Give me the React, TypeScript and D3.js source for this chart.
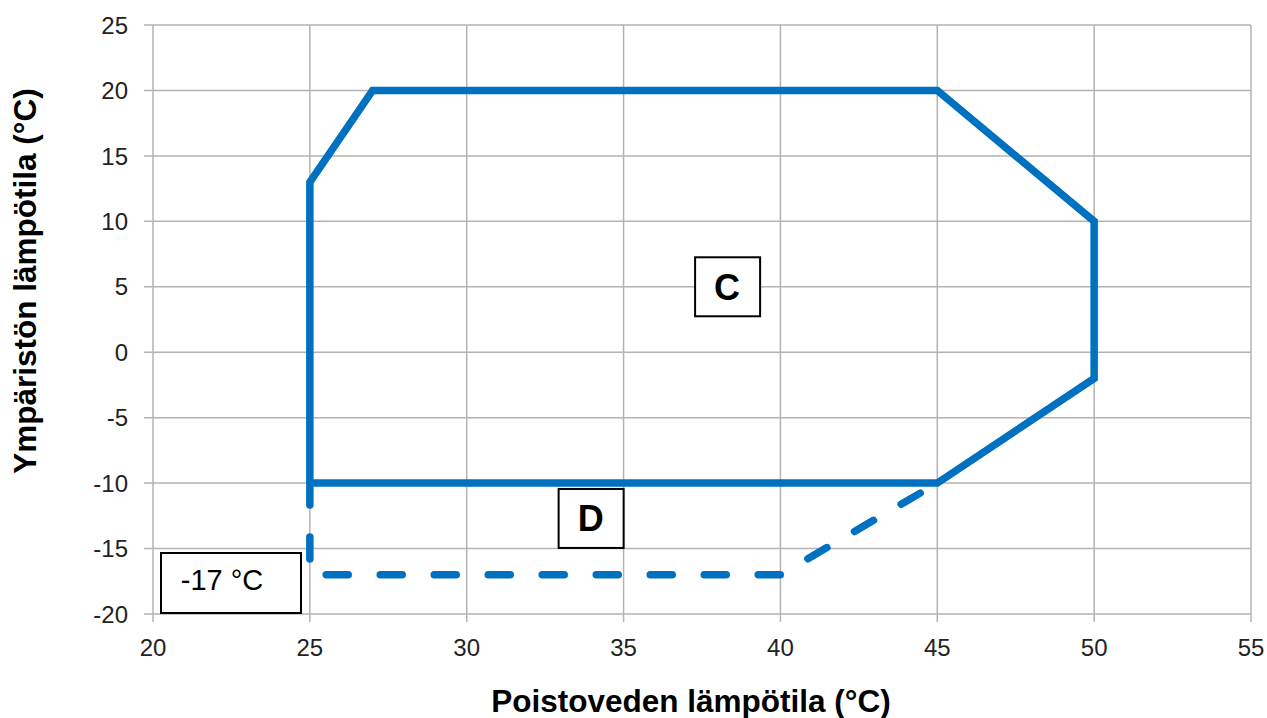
import React from "react";
import * as d3 from "d3";

const xTicks = [20, 25, 30, 35, 40, 45, 50, 55];
const yTicks = [25, 20, 15, 10, 5, 0, -5, -10, -15, -20];

const areaCX = [25, 25, 27, 45, 50, 50, 45, 25];
const areaCY = [-10, 13, 20, 20, 10, -2, -10, -10];

const areaDX = [25, 25, 40, 45];
const areaDY = [-10, -17, -17, -10];

const labels = [
  { text: "C", x: 38.3, y: 5 },
  { text: "D", x: 33.95, y: -12.7 },
];
const minLabel = { text: "-17 °C", x: 22.2, y: -17.4 };

const xTitle = "Poistoveden lämpötila (°C)";
const yTitle = "Ympäristön lämpötila (°C)";

const W = 1267;
const H = 718;
const left = 153;
const right = 1251;
const top = 25;
const bottom = 614;

export default function App() {
  const x = d3.scaleLinear().domain([20, 55]).range([left, right]);
  const y = d3.scaleLinear().domain([-20, 25]).range([bottom, top]);
  const line = d3
    .line<[number, number]>()
    .x((d) => x(d[0]))
    .y((d) => y(d[1]));
  const solidPts = areaCX.map((v, i) => [v, areaCY[i]] as [number, number]);
  const dashPts = areaDX.map((v, i) => [v, areaDY[i]] as [number, number]);
  const blue = "#0070c0";
  const font = "Arial, 'Liberation Sans', sans-serif";
  const gridC = "#b3b3b3";

  return (
    <svg
      width={W}
      height={H}
      style={{ position: "absolute", left: 0, top: 0, background: "#fff" }}
      fontFamily={font}
    >
      {yTicks.map((t) => (
        <g key={"y" + t}>
          <line x1={left - 9} x2={right} y1={y(t)} y2={y(t)} stroke={gridC} strokeWidth={1.5} />
          <text x={128} y={y(t)} dy="0.36em" textAnchor="end" fontSize={24} fill="#222">
            {t}
          </text>
        </g>
      ))}
      {xTicks.map((t) => (
        <g key={"x" + t}>
          <line x1={x(t)} x2={x(t)} y1={top} y2={bottom + 8} stroke={gridC} strokeWidth={1.5} />
          <text x={x(t)} y={656} textAnchor="middle" fontSize={24} fill="#222">
            {t}
          </text>
        </g>
      ))}
      <path
        d={line(dashPts) || ""}
        fill="none"
        stroke={blue}
        strokeWidth={7.5}
        strokeDasharray="22,32"
        strokeLinecap="round"
        strokeLinejoin="round"
      />
      <path d={line(solidPts) || ""} fill="none" stroke={blue} strokeWidth={7.5} strokeLinejoin="miter" />
      {labels.map((l) => (
        <g key={l.text}>
          <rect
            x={x(l.x) - 32}
            y={y(l.y) - 29.5}
            width={65}
            height={59}
            fill="#fff"
            stroke="#000"
            strokeWidth={2}
          />
          <text
            x={x(l.x)}
            y={y(l.y)}
            dy="0.36em"
            textAnchor="middle"
            fontSize={36}
            fontWeight="bold"
            fill="#000"
          >
            {l.text}
          </text>
        </g>
      ))}
      <rect
        x={161}
        y={553}
        width={140}
        height={60}
        fill="#fff"
        stroke="#000"
        strokeWidth={2}
      />
      <text x={x(minLabel.x)} y={y(minLabel.y)} dy="0.36em" textAnchor="middle" fontSize={29} fill="#000">
        {minLabel.text}
      </text>
      <text x={691} y={712} textAnchor="middle" fontSize={31.5} fontWeight="bold" fill="#000">
        {xTitle}
      </text>
      <text
        transform={`translate(36, 281) rotate(-90)`}
        textAnchor="middle"
        fontSize={31.5}
        fontWeight="bold"
        fill="#000"
      >
        {yTitle}
      </text>
    </svg>
  );
}
